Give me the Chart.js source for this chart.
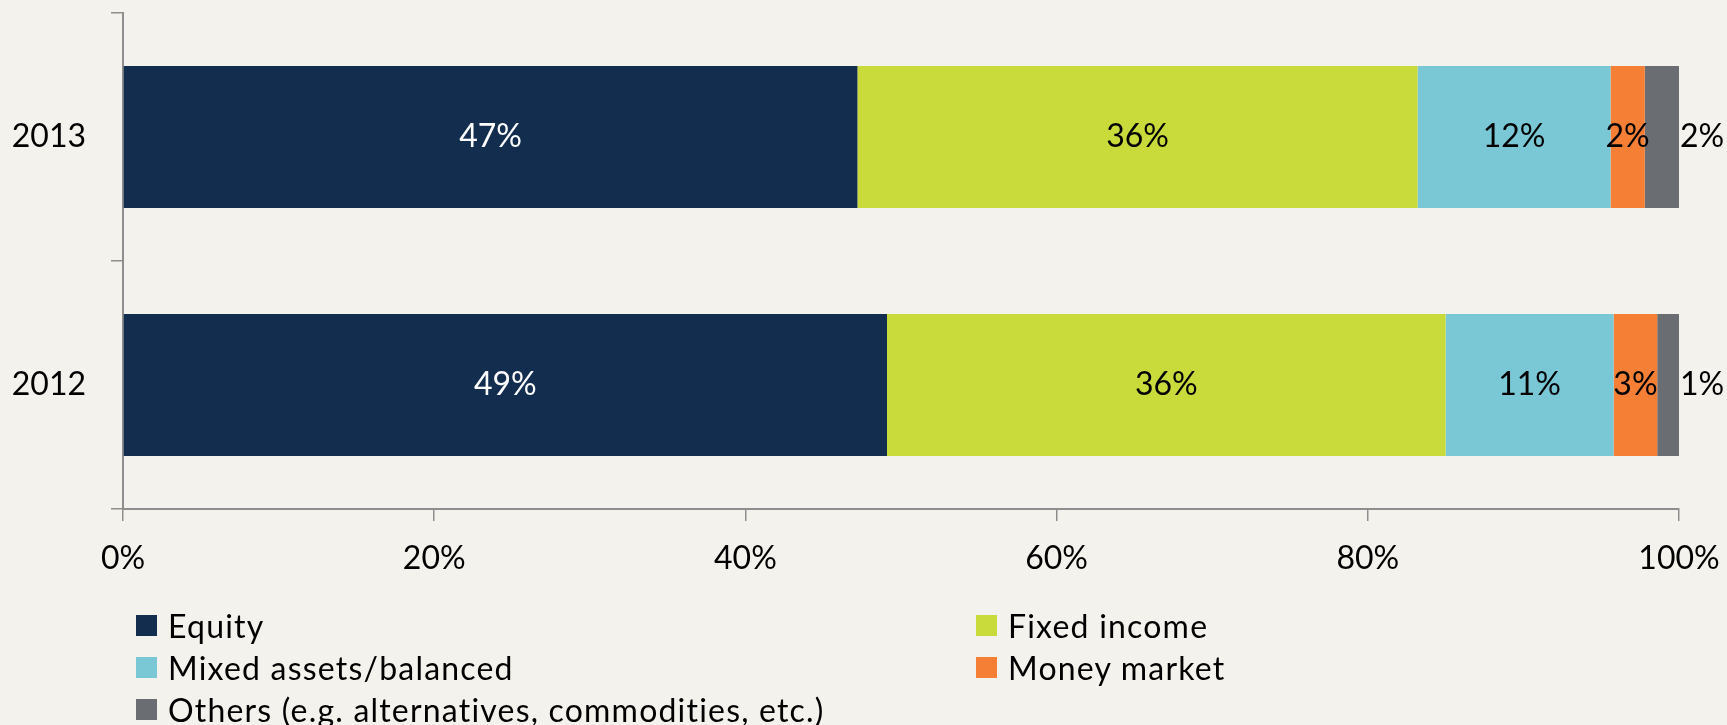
<!DOCTYPE html>
<html>
<head>
<meta charset="utf-8">
<script src="https://cdn.jsdelivr.net/npm/chart.js@4.4.0/dist/chart.umd.min.js"></script>
<style>
    html, body {
        margin: 0;
        padding: 0;
        background: #f4f2ec;
        font-family: Lato, 'Open Sans', sans-serif;
    }
    #wrap {
        position: relative;
        width: 1727px;
        height: 725px;
    }
    #legend {
        position: absolute;
        left: 136px;
        top: 604px;
        display: grid;
        grid-template-columns: 840px auto;
        grid-auto-rows: 42px;
    }
    .legend-item {
        display: flex;
        align-items: center;
        font-size: 32px;
        letter-spacing: 1.2px;
        color: #000;
        white-space: nowrap;
    }
    .legend-color {
        width: 21px;
        height: 21px;
        margin-right: 11px;
    }
</style>
</head>
<body>
<div id="wrap">
    <canvas id="chart" width="1727" height="725"></canvas>
    <div id="legend"></div>
</div>
<script>
// Years, top to bottom
const years = ['2013', '2012'];

// Share of assets per category (%), in order of years
const equity = [47.2, 49.1];
const fixedIncome = [36.0, 35.9];
const mixedAssets = [12.4, 10.8];
const moneyMarket = [2.2, 2.8];
const others = [2.2, 1.4];

const seriesNames = [
    'Equity',
    'Fixed income',
    'Mixed assets/balanced',
    'Money market',
    'Others (e.g. alternatives, commodities, etc.)'
];
const seriesColors = ['#132d4f', '#c9da3b', '#7ac8d6', '#f47f35', '#6a6e72'];
const labelColors = ['#ffffff', '#000000', '#000000', '#000000', '#000000'];

const xTicks = [0, 20, 40, 60, 80, 100];

const axisColor = '#8e8e8e';
const FONT = 'Lato, "Open Sans", sans-serif';

/**
 * Draw the percentage labels on each segment,
 * the last series gets its label just past the bar end
 */
const segmentLabels = {
    id: 'segmentLabels',
    afterDatasetsDraw(chart) {
        const ctx = chart.ctx;
        const last = chart.data.datasets.length - 1;
        ctx.save();
        ctx.font = '32px ' + FONT;
        ctx.textBaseline = 'middle';
        chart.data.datasets.forEach((ds, i) => {
            const meta = chart.getDatasetMeta(i);
            meta.data.forEach((bar, j) => {
                const text = Math.round(ds.data[j]) + '%';
                ctx.fillStyle = labelColors[i];
                if (i === last) {
                    ctx.textAlign = 'left';
                    ctx.fillText(text, bar.x + 1, bar.y);
                } else {
                    ctx.textAlign = 'center';
                    ctx.fillText(text, (bar.x + bar.base) / 2, bar.y);
                }
            });
        });
        ctx.restore();
    }
};

const seriesData = [equity, fixedIncome, mixedAssets, moneyMarket, others];

const chart = new Chart(document.getElementById('chart').getContext('2d'), {
    type: 'bar',
    data: {
        labels: years,
        datasets: seriesData.map((data, i) => ({
            label: seriesNames[i],
            data,
            backgroundColor: seriesColors[i],
            borderWidth: 0,
            barPercentage: 0.573,
            categoryPercentage: 1
        }))
    },
    options: {
        indexAxis: 'y',
        responsive: false,
        animation: false,
        layout: {
            padding: { top: 13, right: 48, bottom: 0, left: 0 }
        },
        plugins: {
            legend: { display: false },
            tooltip: { enabled: false }
        },
        scales: {
            x: {
                stacked: true,
                min: 0,
                max: 100,
                afterBuildTicks: (scale) => {
                    scale.ticks = xTicks.map(v => ({ value: v }));
                },
                afterFit: (scale) => {
                    scale.height = 216;
                    // no extra room for the end labels
                    scale.paddingLeft = 0;
                    scale.paddingRight = 0;
                },
                ticks: {
                    color: '#000',
                    padding: 18,
                    maxRotation: 0,
                    font: { family: FONT, size: 32 },
                    callback: (v) => v + '%'
                },
                grid: {
                    drawOnChartArea: false,
                    drawTicks: true,
                    tickLength: 12,
                    color: axisColor,
                    lineWidth: 1.5
                },
                border: {
                    color: axisColor,
                    width: 2
                }
            },
            y: {
                stacked: true,
                afterFit: (scale) => {
                    scale.width = 123;
                    scale.paddingTop = 0;
                    scale.paddingBottom = 0;
                },
                ticks: {
                    color: '#000',
                    padding: 25,
                    font: { family: FONT, size: 32 }
                },
                grid: {
                    offset: true,
                    drawOnChartArea: false,
                    drawTicks: true,
                    tickLength: 12,
                    color: axisColor,
                    lineWidth: 1.5
                },
                border: {
                    color: axisColor,
                    width: 2
                }
            }
        }
    },
    plugins: [segmentLabels]
});

// Legend in two columns, built from the chart datasets
document.getElementById('legend').innerHTML = chart.data.datasets.map(ds => `
    <div class="legend-item">
        <div class="legend-color" style="background-color: ${ds.backgroundColor}"></div>
        <span>${ds.label}</span>
    </div>
`).join('');
</script>
</body>
</html>
